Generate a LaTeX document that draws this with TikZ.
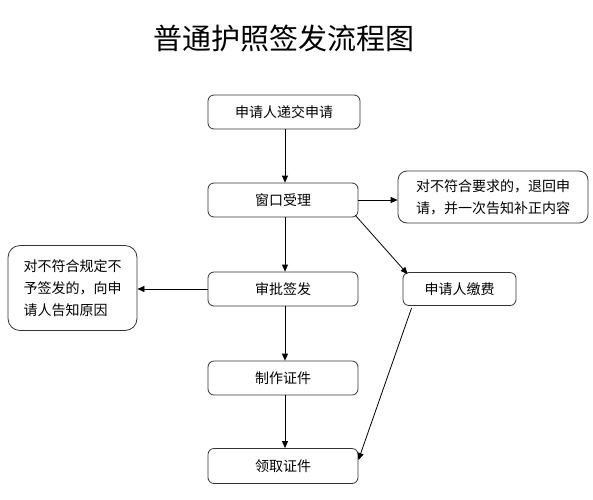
\documentclass[tikz,border=0pt]{standalone}
\usepackage{fontspec}
\setmainfont{Noto Sans CJK SC}
\usetikzlibrary{arrows.meta}
\begin{document}
\begin{tikzpicture}[x=1pt,y=-1pt,
  box/.style={draw=black!80,line width=0.8pt,rounded corners=6pt,inner sep=0pt,font=\fontsize{14}{22}\selectfont},
  arr/.style={draw=black,line width=0.8pt,-{Triangle[length=7pt,width=6pt]}}]
\useasboundingbox[fill=white] (0,0) rectangle (593,499);
\node[font=\fontsize{29}{32}\selectfont] (title) at (284,38) {普通护照签发流程图};
\node[box,minimum width=152pt,minimum height=34pt] (b1) at (284,112) {申请人递交申请};
\node[box,minimum width=150pt,minimum height=34pt] (b2) at (283,200) {窗口受理};
\node[box,minimum width=190pt,minimum height=52pt,align=left,rounded corners=9pt] (r1) at (493,197) {对不符合要求的，退回申\\请，并一次告知补正内容};
\node[box,minimum width=150pt,minimum height=34pt] (b3) at (283,289) {审批签发};
\node[box,minimum width=129pt,minimum height=85pt,align=left,rounded corners=12pt] (l1) at (72.5,288) {对不符合规定不\\予签发的，向申\\请人告知原因};
\node[box,minimum width=113pt,minimum height=33pt] (pay) at (459.5,289) {申请人缴费};
\node[box,minimum width=150pt,minimum height=34pt] (b4) at (283,378) {制作证件};
\node[box,minimum width=150pt,minimum height=35pt] (b5) at (283,466) {领取证件};
\path (b2.south east) ++(-3,-2) coordinate (c1);
\path (pay.north west) ++(5,2) coordinate (c2);
\path (pay.south west) ++(9,2) coordinate (c3);
\path (b5.east) ++(0,-6) coordinate (c4);
\draw[arr] (b1.south -| 285,0) -- (b2.north -| 285,0);
\draw[arr] (b2.east) -- (b2.east -| r1.west);
\draw[arr] (c1) -- (c2);
\draw[arr] (b2.south -| 285,0) -- (b3.north -| 285,0);
\draw[arr] (b3.west) -- (b3.west -| l1.east);
\draw[arr] (b3.south -| 285,0) -- (b4.north -| 285,0);
\draw[arr] (b4.south -| 285,0) -- (b5.north -| 285,0);
\draw[arr] (c3) -- (c4);
\end{tikzpicture}
\end{document}
